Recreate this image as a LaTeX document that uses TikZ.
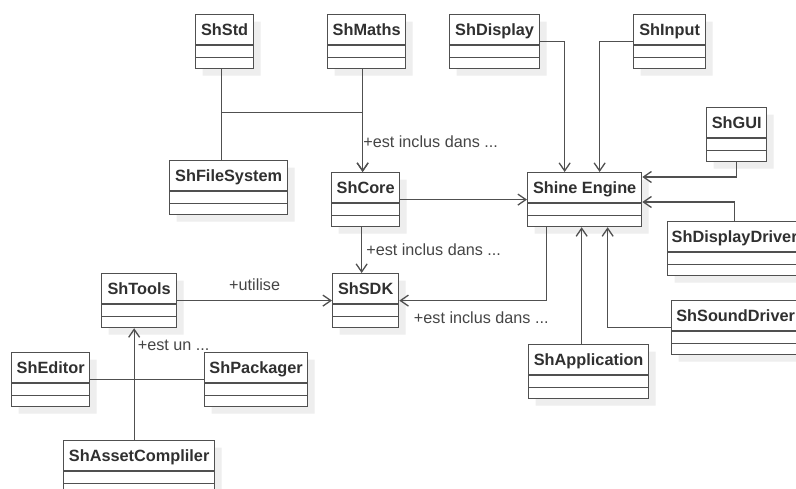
\documentclass[tikz,border=0pt]{standalone}
\usepackage{fontspec}
\setmainfont{Liberation Sans}
\usetikzlibrary{shapes.multipart,shadows,arrows.meta}
\definecolor{umlline}{HTML}{505050}
\definecolor{umltext}{HTML}{303030}
\definecolor{umlshadow}{HTML}{EEEEEE}
\newcommand{\umlname}[1]{\rule[-8.5pt]{0pt}{29pt}#1\nodepart{two}\rule{0pt}{11pt}\nodepart{three}\rule{0pt}{10pt}}
\begin{document}
\begin{tikzpicture}[x=1pt,y=-1pt,line width=1.3pt]
        \tikzstyle{umlclass}=[draw=umlline, fill=white, text=umltext, anchor=north west,
          rectangle split, rectangle split parts=3, inner xsep=0pt, inner ysep=0pt,
          font=\bfseries\fontsize{16.3}{19}\selectfont,
          drop shadow={shadow xshift=7pt, shadow yshift=-7pt, fill=umlshadow, opacity=1}]
        \tikzstyle{umllabel}=[text=umltext!90, inner sep=0pt, font=\fontsize{16.2}{19}\selectfont]
        \tikzstyle{dep}=[draw=umlline, -{Straight Barb[length=8pt,width=11pt]}]
        \path[use as bounding box, fill=white] (0,0) rectangle (796,489);
        \clip (0,0) rectangle (796,489);
        % classes
        \node[umlclass, minimum width=58] (std) at (195,14) {\umlname{ShStd}};
        \node[umlclass, minimum width=78] (maths) at (327,14) {\umlname{ShMaths}};
        \node[umlclass, minimum width=90] (display) at (449,14) {\umlname{ShDisplay}};
        \node[umlclass, minimum width=72] (input) at (633,14) {\umlname{ShInput}};
        \node[umlclass, minimum width=60] (gui) at (706,107) {\umlname{ShGUI}};
        \node[umlclass, minimum width=118] (fs) at (169,160) {\umlname{ShFileSystem}};
        \node[umlclass, minimum width=68] (core) at (331,172) {\umlname{ShCore}};
        \node[umlclass, minimum width=114] (engine) at (527,172) {\umlname{Shine Engine}};
        \node[umlclass, minimum width=134] (dd) at (667,221) {\umlname{ShDisplayDriver}};
        \node[umlclass, minimum width=75] (tools) at (101,273) {\umlname{ShTools}};
        \node[umlclass, minimum width=66] (sdk) at (332,273) {\umlname{ShSDK}};
        \node[umlclass, minimum width=128] (sd) at (671,300) {\umlname{ShSoundDriver}};
        \node[umlclass, minimum width=78] (editor) at (11,352) {\umlname{ShEditor}};
        \node[umlclass, minimum width=103] (packager) at (204,352) {\umlname{ShPackager}};
        \node[umlclass, minimum width=120] (app) at (528,344) {\umlname{ShApplication}};
        \node[umlclass, minimum width=151] (asset) at (63,440) {\umlname{ShAssetCompliler}};
        % links
        \coordinate (stdj) at ([xshift=-3pt,yshift=-43pt]std.south);
        \draw[umlline] ([xshift=-3pt]std.south) -- ([xshift=-3pt]std.south |- fs.north);
        \draw[dep] (stdj) -| ([xshift=-3pt]core.north);
        \draw[dep] ([xshift=-4pt]maths.south) -- ([xshift=-4pt]maths.south |- core.north)
          node[umllabel, pos=0.76, anchor=base west, xshift=0pt] (lblmaths) {+est inclus dans ...};
        \draw[dep] (core.east) -- (engine.west);
        \draw[dep] ([xshift=-4pt]core.south) -- ([xshift=-4pt]sdk.north)
          node[umllabel, pos=0.61, anchor=base west, xshift=4pt] (lblcore) {+est inclus dans ...};
        \draw[dep] (tools.east) -- (tools.east -| sdk.west)
          node[umllabel, midway, anchor=base, yshift=10pt] (lbltools) {+utilise};
        \draw[dep] ([xshift=-38pt]engine.south) |- (sdk.east)
          node[umllabel, at end, anchor=base west, xshift=14pt, yshift=-23pt] (lblengine) {+est inclus dans ...};
        \draw[dep] (display.east) -| ([xshift=-20pt]engine.north);
        \draw[dep] (input.west) -| ([xshift=15pt]engine.north);
        \draw[dep] (gui.south) |- ([yshift=-5pt]engine.north east);
        \draw[dep] (dd.north) |- ([yshift=-30pt]engine.north east);
        \draw[dep] ([xshift=-7pt]app.north) -- ([xshift=-7pt]app.north |- engine.south);
        \draw[dep] (sd.west) -| ([xshift=23pt]engine.south);
        \draw[umlline] (editor.east) -- (packager.west);
        \draw[dep] ([xshift=-5pt]asset.north) -- ([xshift=-5pt]tools.south)
          node[umllabel, pos=0.8, anchor=base west, xshift=3pt] (lblasset) {+est un ...};
\end{tikzpicture}
\end{document}
